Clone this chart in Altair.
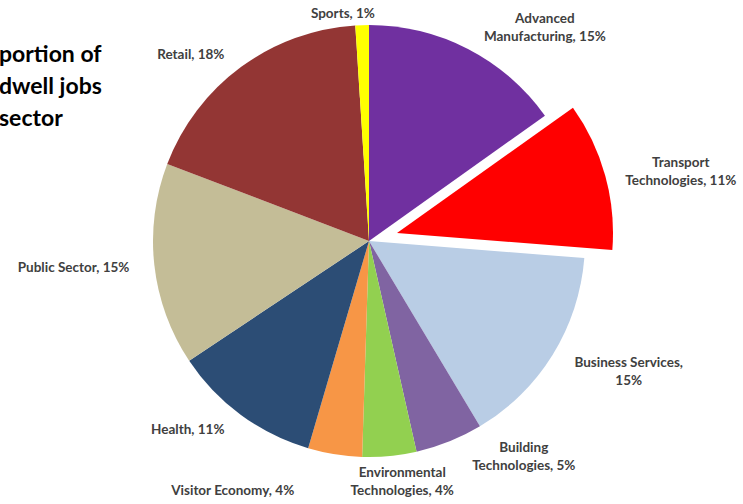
import math
import altair as alt
import pandas as pd

# ---- data ----
sectors = [
    "Advanced Manufacturing", "Transport Technologies", "Business Services",
    "Building Technologies", "Environmental Technologies", "Visitor Economy",
    "Health", "Public Sector", "Retail", "Sports",
]
shares = [15, 11, 15, 5, 4, 4, 11, 15, 18, 1]
labels = [
    "Advanced\nManufacturing, 15%", "Transport\nTechnologies, 11%",
    "Business Services,\n15%", "Building\nTechnologies, 5%",
    "Environmental\nTechnologies, 4%", "Visitor Economy, 4%",
    "Health, 11%", "Public Sector, 15%", "Retail, 18%", "Sports, 1%",
]
title_lines = ["portion of", "dwell jobs", "sector"]

# ---- styles ----
colors = ["#7030A0", "#FF0000", "#B9CDE5", "#8064A2", "#92D050",
          "#F79646", "#2C4D75", "#C4BD97", "#933634", "#FFFF00"]
exploded = "Transport Technologies"
label_nudge = {  # (dx, dy) from the mid-angle anchor
    "Advanced Manufacturing": (59, 5),
    "Transport Technologies": (66, -10),
    "Business Services": (43, -12),
    "Building Technologies": (60, -30),
    "Environmental Technologies": (9, -22),
    "Visitor Economy": (-96, -2),
    "Health": (-30, -16),
    "Public Sector": (-42, -1),
    "Retail": (-27, 19),
    "Sports": (-18, 28),
}

df = pd.DataFrame({"order": range(len(sectors)), "sector": sectors,
                   "share": shares, "label": labels})
total = sum(shares)
theta_scale = alt.Scale(domain=[0, total], range=[0, 2 * math.pi])

base = alt.Chart(df).transform_window(
    cum="sum(share)", sort=[alt.SortField("order")], frame=[None, 0]
).transform_calculate(
    start="datum.cum - datum.share", mid="datum.cum - datum.share / 2"
)

color = alt.Color("sector:N", scale=alt.Scale(domain=sectors, range=colors), legend=None)
R = 216

pie = base.transform_filter(alt.datum.sector != exploded).mark_arc(radius=R).encode(
    theta=alt.Theta("start:Q", scale=theta_scale, stack=None),
    theta2="cum:Q",
    color=color,
)
pie_out = base.transform_filter(alt.datum.sector == exploded).mark_arc(
    radius=R, xOffset=28, yOffset=-8
).encode(
    theta=alt.Theta("start:Q", scale=theta_scale, stack=None),
    theta2="cum:Q",
    color=color,
)

text_layers = []
for s in sectors:
    dx, dy = label_nudge[s]
    text_layers.append(
        base.transform_filter(alt.datum.sector == s).mark_text(
            radius=255, dx=dx, dy=dy, align="center", baseline="middle",
            lineBreak="\n", lineHeight=18, font="Lato", fontWeight="bold",
            fontSize=13.5, color="#404040",
        ).encode(theta=alt.Theta("mid:Q", scale=theta_scale, stack=None), text="label:N")
    )

title = alt.Chart(pd.DataFrame({"t": [0]})).mark_text(
    text=title_lines, align="left", baseline="alphabetic", lineHeight=32,
    font="Lato", fontWeight="bold", fontSize=23, color="#000000",
).encode(x=alt.value(-1), y=alt.value(62))

chart = alt.layer(pie, pie_out, *text_layers, title).properties(
    width=738, height=482,
    padding={"left": 0, "top": 0, "right": 5, "bottom": 22},
    autosize="none",
).configure_view(stroke=None)

chart.save("out.html", embed_options={"renderer": "svg", "actions": False})
